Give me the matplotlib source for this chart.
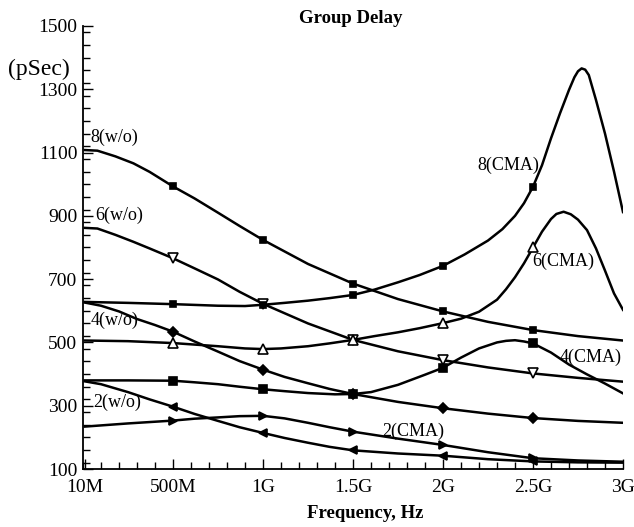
import numpy as np
import matplotlib
matplotlib.use("Agg")
import matplotlib.pyplot as plt
from matplotlib.ticker import MultipleLocator

# ---------------- data (frequency in GHz, group delay in pSec) ----------------
f_8wo = [0.01, 0.08, 0.18, 0.28, 0.37, 0.5, 0.62, 0.75, 0.87, 1.0, 1.25, 1.5,
         1.75, 2.0, 2.25, 2.5, 2.75, 3.0]
d_8wo = [1108, 1106, 1088, 1066, 1039, 993, 955, 910, 868, 824, 748, 686,
         637, 598, 565, 539, 520, 506]

f_6wo = [0.01, 0.08, 0.18, 0.28, 0.37, 0.5, 0.62, 0.75, 0.87, 1.0, 1.25, 1.5,
         1.75, 2.0, 2.25, 2.5, 2.75, 3.0]
d_6wo = [862, 860, 840, 818, 797, 766, 734, 699, 660, 622, 560, 508,
         472, 444, 421, 402, 388, 376]

f_4wo = [0.01, 0.1, 0.2, 0.3, 0.4, 0.5, 0.62, 0.75, 0.87, 1.0, 1.12, 1.25,
         1.37, 1.5, 1.75, 2.0, 2.25, 2.5, 2.75, 3.0]
d_4wo = [626, 616, 598, 574, 555, 534, 503, 471, 441, 414, 391, 371,
         353, 337, 312, 292, 275, 261, 252, 246]

f_2wo = [0.01, 0.1, 0.25, 0.37, 0.5, 0.62, 0.75, 0.87, 1.0, 1.12, 1.25, 1.37,
         1.5, 1.75, 2.0, 2.25, 2.5, 2.75, 3.0]
d_2wo = [377, 368, 343, 320, 297, 274, 252, 232, 214, 198, 183, 170,
         159, 149, 142, 131, 124, 121, 120]

f_8cma = [0.01, 0.25, 0.5, 0.75, 0.9, 1.0, 1.12, 1.25, 1.37, 1.5, 1.62, 1.75,
          1.87, 2.0, 2.12, 2.25, 2.33, 2.4, 2.45, 2.5, 2.55, 2.6, 2.65, 2.7,
          2.73, 2.75, 2.77, 2.79, 2.81, 2.85, 2.9, 2.95, 3.0]
d_8cma = [628, 625, 621, 616, 615, 619, 625, 632, 640, 650, 667, 690,
          713, 742, 778, 822, 858, 900, 940, 992, 1060, 1145, 1224, 1298,
          1338, 1357, 1366, 1362, 1345, 1266, 1160, 1040, 912]

f_6cma = [0.01, 0.25, 0.5, 0.75, 0.9, 1.0, 1.1, 1.25, 1.37, 1.5, 1.62, 1.75,
          1.87, 2.0, 2.1, 2.2, 2.3, 2.35, 2.4, 2.45, 2.5, 2.55, 2.6, 2.63,
          2.67, 2.71, 2.75, 2.8, 2.85, 2.9, 2.95, 3.0]
d_6cma = [506, 504, 498, 488, 481, 479, 481, 488, 497, 508, 520, 532,
          545, 561, 575, 597, 635, 668, 706, 750, 800, 850, 890, 906,
          913, 905, 888, 855, 797, 727, 655, 603]

f_4cma = [0.01, 0.25, 0.5, 0.62, 0.75, 0.87, 1.0, 1.12, 1.25, 1.4, 1.5, 1.6,
          1.75, 1.9, 2.0, 2.1, 2.2, 2.3, 2.35, 2.4, 2.45, 2.5, 2.6, 2.7, 2.8,
          2.9, 3.0]
d_4cma = [380, 380, 379, 374, 368, 360, 352, 346, 340, 336, 337, 343,
          366, 398, 420, 452, 481, 500, 505, 507, 503, 497, 468, 430, 399,
          370, 339]

f_2cma = [0.01, 0.25, 0.5, 0.62, 0.75, 0.87, 1.0, 1.12, 1.25, 1.37, 1.5, 1.75,
          2.0, 2.25, 2.5, 2.75, 3.0]
d_2cma = [234, 244, 253, 259, 263, 267, 268, 260, 246, 232, 218, 196,
          176, 153, 134, 127, 123]

marker_freqs = [0.5, 1.0, 1.5, 2.0, 2.5]

x_ticks = [0.01, 0.5, 1.0, 1.5, 2.0, 2.5, 3.0]
x_ticklabels = ["10M", "500M", "1G", "1.5G", "2G", "2.5G", "3G"]
y_ticks = [100, 300, 500, 700, 900, 1100, 1300, 1500]

curve_labels = ["8(w/o)", "6(w/o)", "4(w/o)", "2(w/o)",
                "8(CMA)", "6(CMA)", "4(CMA)", "2(CMA)"]

# ---------------- styling ----------------
SERIF = ["Liberation Serif", "DejaVu Serif"]
plt.rcParams["font.family"] = SERIF

fig = plt.figure(figsize=(6.34, 5.27), dpi=100)
ax = fig.add_axes([83 / 634, 1 - 469 / 527, 540 / 634, 443 / 527])

series = [
    (f_8wo, d_8wo, dict(marker="s", ms=4.5, mfc="black")),
    (f_6wo, d_6wo, dict(marker="v", ms=6.5, mfc="white")),
    (f_4wo, d_4wo, dict(marker="D", ms=5, mfc="black")),
    (f_2wo, d_2wo, dict(marker="<", ms=6, mfc="black")),
    (f_8cma, d_8cma, dict(marker="s", ms=5, mfc="black")),
    (f_6cma, d_6cma, dict(marker="^", ms=6.5, mfc="white")),
    (f_4cma, d_4cma, dict(marker="s", ms=6, mfc="black")),
    (f_2cma, d_2cma, dict(marker=">", ms=6, mfc="black")),
]

for fx, dy, mk in series:
    fx = np.asarray(fx)
    idx = [int(np.argmin(np.abs(fx - m))) for m in marker_freqs]
    ax.plot(fx, dy, color="black", lw=1.8, markevery=idx, mec="black",
            mew=1.2, solid_joinstyle="round", **mk)

label_pos = [(0.04, 1147), (0.067, 901), (0.04, 569), (0.055, 310),
             (2.19, 1059), (2.494, 756), (2.65, 452), (1.661, 218)]
for txt, (lx, ly) in zip(curve_labels, label_pos):
    ax.text(lx, ly, txt, ha="left", va="center", fontsize=13, color="black")

ax.set_xlim(0, 3.0)
ax.set_ylim(100, 1500)
ax.set_xticks(x_ticks)
ax.set_xticklabels(x_ticklabels)
ax.set_yticks(y_ticks)
ax.xaxis.set_minor_locator(MultipleLocator(0.1))
ax.yaxis.set_minor_locator(MultipleLocator(40))
ax.tick_params(which="both", direction="in", width=1.0, colors="black",
               labelsize=14, top=False, right=False)
ax.tick_params(which="major", length=7)
ax.tick_params(which="minor", length=5)
ax.tick_params(axis="x", pad=7)
ax.tick_params(axis="y", pad=4)
for s in ["top", "right"]:
    ax.spines[s].set_visible(False)
for s in ["left", "bottom"]:
    ax.spines[s].set_linewidth(1.3)

fig.text(351 / 634, 1 - 23 / 527, "Group Delay", ha="center", va="baseline",
         fontsize=13.5, fontweight="bold")
fig.text(8 / 634, 1 - 69.5 / 527, "(pSec)", ha="left", va="center", fontsize=17)
fig.text(365 / 634, 1 - 518 / 527, "Frequency, Hz", ha="center", va="baseline",
         fontsize=13.5, fontweight="bold")

fig.savefig("out.png", dpi=100, facecolor="white")
